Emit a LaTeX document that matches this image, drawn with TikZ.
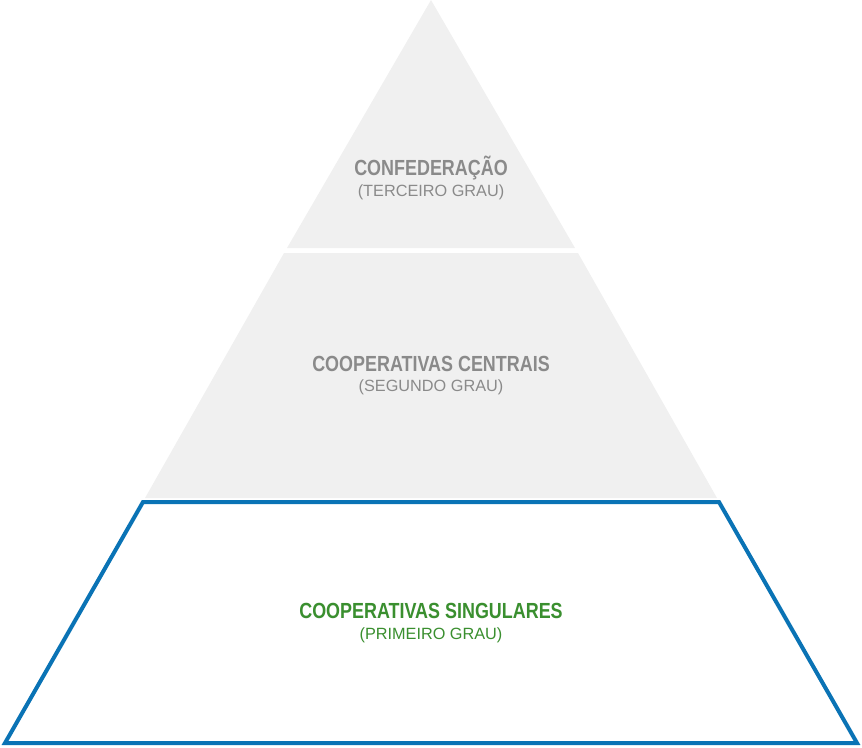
\documentclass[tikz,border=0pt]{standalone}
\usepackage{fontspec}
\setmainfont{Liberation Sans}[FakeStretch=0.82]
\newfontfamily\largo{Liberation Sans}
\definecolor{piso}{HTML}{F0F0F0}
\definecolor{cinza}{HTML}{8A8A8A}
\definecolor{verde}{HTML}{3A8F2F}
\definecolor{azul}{HTML}{0A73B5}
\tikzset{
  titulo/.style={font=\bfseries\fontsize{16.4}{18}\selectfont, inner sep=0pt},
  grau/.style={font=\largo\fontsize{12.2}{14}\selectfont, inner sep=0pt}
}
\begin{document}
\begin{tikzpicture}[x=0.75pt,y=-0.75pt]
  \useasboundingbox (0,0) rectangle (862,747);
  % niveis da piramide
  \fill[piso] (431,0) -- (575,248) -- (287,248) -- cycle;
  \fill[piso] (284,253) -- (578,253) -- (717,498) -- (145,498) -- cycle;
  \draw[azul, line width=3pt, fill=white, line join=miter] (143,502) -- (719,502) -- (857,743) -- (5,743) -- cycle;

  \node[titulo, text=cinza] (conf) at (431,168) {CONFEDERAÇÃO};
  \node[grau, text=cinza] (confg) at (431,192) {(TERCEIRO GRAU)};
  \node[titulo, text=cinza] (cent) at (431,364) {COOPERATIVAS CENTRAIS};
  \node[grau, text=cinza] (centg) at (431,387) {(SEGUNDO GRAU)};
  \node[titulo, text=verde] (sing) at (431,611) {COOPERATIVAS SINGULARES};
  \node[grau, text=verde] (singg) at (431,635) {(PRIMEIRO GRAU)};
\end{tikzpicture}
\end{document}
